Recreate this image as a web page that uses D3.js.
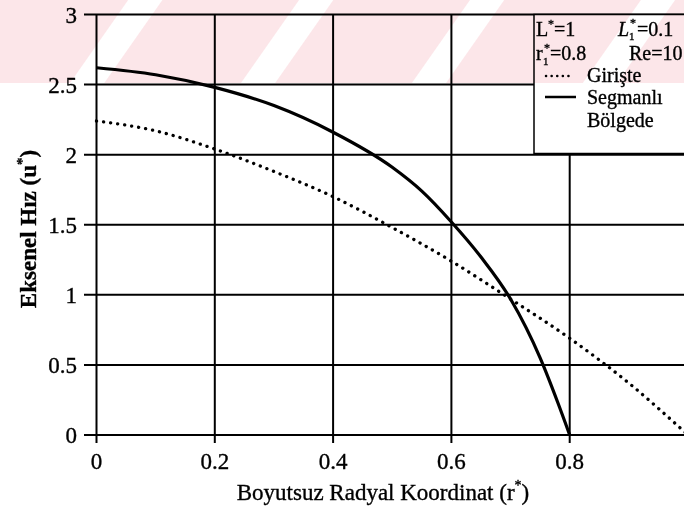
<!DOCTYPE html>
<html><head><meta charset="utf-8">
<script src="https://cdn.jsdelivr.net/npm/d3@7"></script>
<style>
html,body{margin:0;padding:0;background:#fff;overflow:hidden}
svg text{font-family:"Liberation Serif","Times New Roman",Times,serif;fill:#000;stroke:#000;stroke-width:0.35px;}
</style>
</head><body>
<script>
// ---- data ----
const xTicks = [0, 0.2, 0.4, 0.6, 0.8];
const yTicks = [0, 0.5, 1, 1.5, 2, 2.5, 3];
const yTickLabels = ["0", "0.5", "1", "1.5", "2", "2.5", "3"];
const rSegmanli = [0, 0.1, 0.2, 0.3, 0.4, 0.5, 0.55, 0.6, 0.65, 0.7, 0.75, 0.78, 0.8];
const uSegmanli = [2.62, 2.57, 2.48, 2.35, 2.16, 1.91, 1.74, 1.52, 1.27, 0.97, 0.55, 0.23, 0];
const rGiriste = [0, 0.1, 0.2, 0.3, 0.4, 0.5, 0.6, 0.7, 0.8, 0.9, 1.0];
const uGiriste = [2.24, 2.17, 2.04, 1.88, 1.70, 1.48, 1.24, 0.97, 0.69, 0.37, 0];
const xTitle = "Boyutsuz Radyal Koordinat (r";
const yTitle = "Eksenel Hız (u";

const W = 684, H = 511;
const svg = d3.select("body").append("svg").attr("width", W).attr("height", H);

const x = d3.scaleLinear().domain([0, 1]).range([96.5, 688]);
const y = d3.scaleLinear().domain([0, 3]).range([435, 14.5]);

const g = svg.append("g").attr("stroke", "#000").attr("stroke-width", 2);
g.selectAll("line.h").data(yTicks).join("line")
  .attr("x1", 84).attr("x2", W).attr("y1", d => y(d)).attr("y2", d => y(d));
g.selectAll("line.v").data(xTicks.concat([1])).join("line")
  .attr("x1", d => x(d)).attr("x2", d => x(d)).attr("y1", y(3)).attr("y2", 443);

svg.selectAll("text.yt").data(yTicks).join("text")
  .attr("x", 77).attr("y", d => y(d) + 8).attr("text-anchor", "end")
  .attr("font-size", 23).text((d, i) => yTickLabels[i]);
svg.selectAll("text.xt").data(xTicks).join("text")
  .attr("x", d => x(d)).attr("y", 469).attr("text-anchor", "middle")
  .attr("font-size", 23).text(d => d3.format("")(d));

const line = d3.line().curve(d3.curveMonotoneX);
svg.append("path")
  .attr("d", line(rGiriste.map((r, i) => [x(r), y(uGiriste[i])])))
  .attr("fill", "none").attr("stroke", "#000").attr("stroke-width", 3.3)
  .attr("stroke-linecap", "round").attr("stroke-dasharray", "0.1 7");
svg.append("path")
  .attr("d", line(rSegmanli.map((r, i) => [x(r), y(uSegmanli[i])])))
  .attr("fill", "none").attr("stroke", "#000").attr("stroke-width", 3.2);

const xt = svg.append("text").attr("x", 383).attr("y", 500).attr("text-anchor", "middle").attr("font-size", 23);
xt.append("tspan").text(xTitle);
xt.append("tspan").attr("font-size", 14).attr("dy", -10).text("*");
xt.append("tspan").attr("dy", 10).text(")");

const yt = svg.append("text").attr("transform", "translate(36,229) rotate(-90)")
  .attr("text-anchor", "middle").attr("font-size", 23).attr("font-weight", "bold");
yt.append("tspan").text(yTitle);
yt.append("tspan").attr("font-size", 15).attr("dy", -9).text("*");
yt.append("tspan").attr("dy", 9).text(")");

// legend box (opaque)
svg.append("rect").attr("x", 534).attr("y", 14.5).attr("width", 160).attr("height", 139)
  .attr("fill", "#fff").attr("stroke", "#000").attr("stroke-width", 1.5);
const lg = svg.append("g");
function txt(xp, yp, s, size, extra) {
  const e = lg.append("text").attr("x", xp).attr("y", yp).attr("font-size", size).text(s);
  if (extra) extra(e);
  return e;
}
// line 1: L*=1   L1*=0.1
txt(536, 29, "L", 20, e => e.attr("y", 36));
txt(548, 28, "*", 12);
txt(554, 36, "=1", 20);
txt(618, 36, "L", 20, e => e.attr("font-style", "italic"));
txt(629, 40, "1", 11);
txt(630, 27, "*", 12);
txt(637, 36, "=0.1", 20);
// line 2: r1*=0.8  Re=10
txt(536, 60, "r", 20);
txt(543, 64.5, "1", 11);
txt(544, 51.5, "*", 12);
txt(550, 60, "=0.8", 20);
txt(629, 60, "Re=10", 20);
lg.append("line").attr("x1", 546).attr("x2", 573).attr("y1", 76).attr("y2", 76)
  .attr("stroke", "#000").attr("stroke-width", 2.5).attr("stroke-linecap", "round").attr("stroke-dasharray", "0.1 5.5");
txt(587, 82, "Girişte", 20);
lg.append("line").attr("x1", 545).attr("x2", 576).attr("y1", 97).attr("y2", 97)
  .attr("stroke", "#000").attr("stroke-width", 2.5);
txt(587, 104, "Segmanlı", 20);
txt(587, 127, "Bölgede", 20);

// watermark band on top (multiply)
const defs = svg.append("defs");
const pat = defs.append("pattern").attr("id", "wm").attr("patternUnits", "userSpaceOnUse")
  .attr("width", 140).attr("height", 200).attr("patternTransform", "rotate(35)");
pat.append("rect").attr("width", 140).attr("height", 200).attr("fill", "#fce6e9");
pat.append("rect").attr("x", 105).attr("width", 28).attr("height", 200).attr("fill", "#ffffff");
svg.append("rect").attr("x", 0).attr("y", 0).attr("width", W).attr("height", 83)
  .attr("fill", "url(#wm)").style("mix-blend-mode", "multiply");
</script>
</body></html>
